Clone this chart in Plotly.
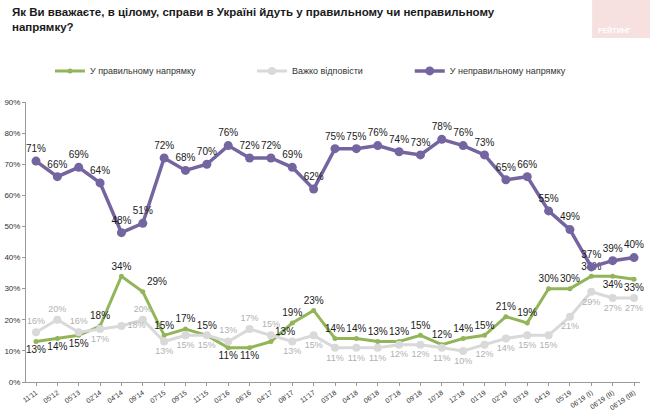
import plotly.graph_objects as go

categories = ["11'11", "05'12", "05'13", "02'14", "04'14", "09'14", "07'15", "09'15", "11'15",
              "02'16", "06'16", "04'17", "08'17", "11'17", "03'18", "04'18", "06'18", "07'18",
              "09'18", "10'18", "12'18", "01'19", "02'19", "03'19", "04'19", "05'19",
              "06'19 (I)", "06'19 (II)", "06'19 (III)"]
right_dir = [13, 14, 15, 18, 34, 29, 15, 17, 15, 11, 11, 13, 19, 23, 14, 14, 13, 13, 15, 12,
             14, 15, 21, 19, 30, 30, 34, 34, 33]
hard_say = [16, 20, 16, 17, 18, 20, 13, 15, 15, 13, 17, 15, 13, 15, 11, 11, 11, 12, 12, 11,
            10, 12, 14, 15, 15, 21, 29, 27, 27]
wrong_dir = [71, 66, 69, 64, 48, 51, 72, 68, 70, 76, 72, 72, 69, 62, 75, 75, 76, 74, 73, 78,
             76, 73, 65, 66, 55, 49, 37, 39, 40]
y_ticks = [0, 10, 20, 30, 40, 50, 60, 70, 80, 90]
y_tick_labels = [f"{v}%" for v in y_ticks]

FONT = "Liberation Sans, Arial, sans-serif"
GREEN = "#93B55A"
GRAY = "#D9D9D9"
PURPLE = "#7464A0"

green_pos = ["bottom center", "bottom center", "bottom center", "top center", "top center",
             "top right", "top center", "top center", "top center", "bottom center",
             "bottom center", "top right", "top center", "top center"] + ["top center"] * 12 + \
            ["top center", "bottom center", "bottom center"]
gray_pos = ["top center", "top center", "top center", "bottom center", "middle right",
            "top center", "bottom center", "bottom center", "bottom center", "top center",
            "top center", "top center", "bottom center", "bottom center"] + ["bottom center"] * 15

fig = go.Figure()
fig.add_trace(go.Scatter(
    x=categories, y=right_dir, name="У правильному напрямку", legend="legend",
    mode="lines+markers+text", text=[f"{v}%" for v in right_dir], textposition=green_pos,
    line=dict(color=GREEN, width=3), marker=dict(color=GREEN, size=5),
    textfont=dict(family=FONT, size=10, color="#1a1a1a"), cliponaxis=False))
fig.add_trace(go.Scatter(
    x=categories, y=hard_say, name="Важко відповісти", legend="legend2",
    mode="lines+markers+text", text=[f"{v}%" for v in hard_say], textposition=gray_pos,
    line=dict(color=GRAY, width=3), marker=dict(color=GRAY, size=8),
    textfont=dict(family=FONT, size=9, color="#b0b0b0"), cliponaxis=False))
fig.add_trace(go.Scatter(
    x=categories, y=wrong_dir, name="У неправильному напрямку", legend="legend3",
    mode="lines+markers+text", text=[f"{v}%" for v in wrong_dir], textposition="top center",
    line=dict(color=PURPLE, width=3.5), marker=dict(color=PURPLE, size=9),
    textfont=dict(family=FONT, size=10, color="#1a1a1a"), cliponaxis=False))

def leg(x):
    return dict(orientation="h", x=x, xanchor="left", y=1.111, yanchor="middle",
                font=dict(family=FONT, size=9, color="#333"), itemwidth=30,
                bgcolor="rgba(0,0,0,0)")

fig.update_layout(
    width=650, height=417,
    margin=dict(l=26, r=10, t=102, b=35, autoexpand=False),
    paper_bgcolor="white", plot_bgcolor="white",
    font=dict(family=FONT, size=10, color="#333"),
    showlegend=True,
    legend=leg(0.039), legend2=leg(0.368), legend3=leg(0.625),
    annotations=[dict(
        text="Як Ви вважаєте, в цілому, справи в Україні йдуть у правильному чи неправильному<br>напрямку?",
        xref="paper", yref="paper", x=-0.026, y=1.35, xanchor="left", yanchor="top",
        showarrow=False, align="left",
        font=dict(family=FONT, size=11.5, color="#1a1a1a", weight="bold")),
        dict(text="<b>РЕЙТИНГ</b>", xref="paper", yref="paper", x=0.959, y=1.257,
             xanchor="center", yanchor="middle", showarrow=False,
             font=dict(family=FONT, size=7, color="white"))],
    shapes=[dict(type="rect", xref="paper", yref="paper", x0=0.922, x1=1.02, y0=1.229, y1=1.37,
                 fillcolor="#F6E0E0", line=dict(width=0), layer="below")],
)
fig.update_xaxes(
    type="category", range=[-0.468, 28.28], showline=True, linecolor="#999", linewidth=1,
    ticks="outside", ticklen=3, tickcolor="#999", tickangle=-35, showgrid=False,
    automargin=False, tickfont=dict(family=FONT, size=7, color="#333"))
fig.update_yaxes(
    range=[0, 90], tickvals=y_ticks, ticktext=y_tick_labels, showline=True, linecolor="#999",
    linewidth=1, ticks="outside", ticklen=3, tickcolor="#999", showgrid=False, zeroline=False,
    automargin=False, tickfont=dict(family=FONT, size=8, color="#333"))

fig.write_html("out.html", config={"displayModeBar": False},
               post_script="document.body.style.margin='0';")
